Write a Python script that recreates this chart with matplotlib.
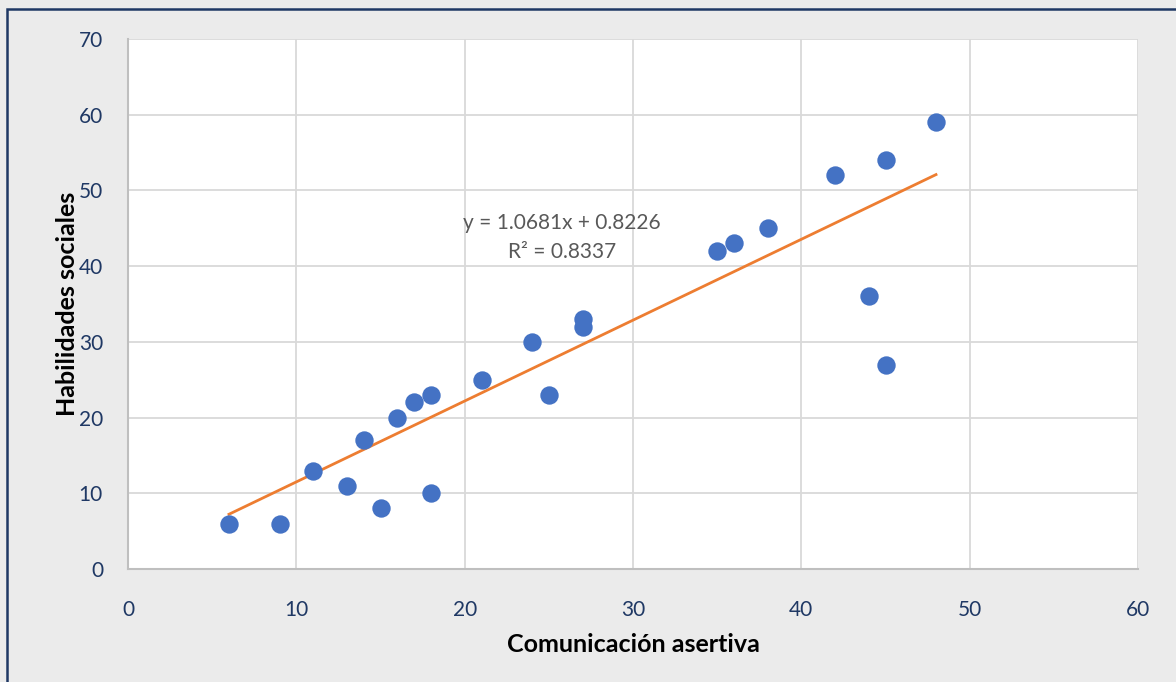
import numpy as np
import matplotlib
matplotlib.use('Agg')
import matplotlib.pyplot as plt
from matplotlib.patches import Rectangle

# datos
comunicacion = [6, 9, 11, 13, 14, 15, 16, 17, 18, 18, 21, 24, 25, 27, 27,
                35, 36, 38, 42, 44, 45, 45, 48]
habilidades = [6, 6, 13, 11, 17, 8, 20, 22, 23, 10, 25, 30, 23, 33, 32,
               42, 43, 45, 52, 36, 54, 27, 59]
pendiente = 1.0681
intercepto = 0.8226
r2 = 0.8337

navy = '#1f3864'
plt.rcParams['font.family'] = ['Lato', 'DejaVu Sans']

fig = plt.figure(figsize=(11.76, 6.82), dpi=100, facecolor='#ebebeb')
ax = fig.add_axes([128 / 1176, 1 - 569 / 682, 1010 / 1176, 530 / 682])
ax.set_facecolor('white')

ax.scatter(comunicacion, habilidades, s=175, color='#4472c4', zorder=3, linewidths=0)
xs = np.array([min(comunicacion), max(comunicacion)])
ax.plot(xs, pendiente * xs + intercepto, color='#ed7d31', lw=2, zorder=2)

ax.text(25.8, 45.7, f'y = {pendiente}x + {intercepto}', ha='center', va='center',
        fontsize=15, color='#595959')
ax.text(25.8, 41.9, f'R² = {r2}', ha='center', va='center',
        fontsize=15, color='#595959')

ax.set_xlim(0, 60)
ax.set_ylim(0, 70)
ax.set_xticks(range(0, 61, 10))
ax.set_yticks(range(0, 71, 10))
ax.grid(True, color='#d9d9d9', lw=1.3)
ax.set_axisbelow(True)
ax.tick_params(length=0, labelsize=15, labelcolor=navy)
ax.tick_params(axis='y', pad=18)
ax.tick_params(axis='x', pad=22)
for s in ('top', 'right'):
    ax.spines[s].set_visible(False)
for s in ('left', 'bottom'):
    ax.spines[s].set_color('#bfbfbf')
    ax.spines[s].set_linewidth(1.5)

ax.set_xlabel('Comunicación asertiva', fontsize=18, fontweight='bold', labelpad=10)
ax.set_ylabel('Habilidades sociales', fontsize=18, fontweight='bold', labelpad=0)

# marco azul del gráfico
fig.patches.append(Rectangle((7 / 1176, -0.1), 1.2, 1 - 9 / 682 + 0.1,
                             transform=fig.transFigure, fill=False,
                             edgecolor=navy, lw=1.8))

fig.savefig('out.png', dpi=100, facecolor=fig.get_facecolor())
